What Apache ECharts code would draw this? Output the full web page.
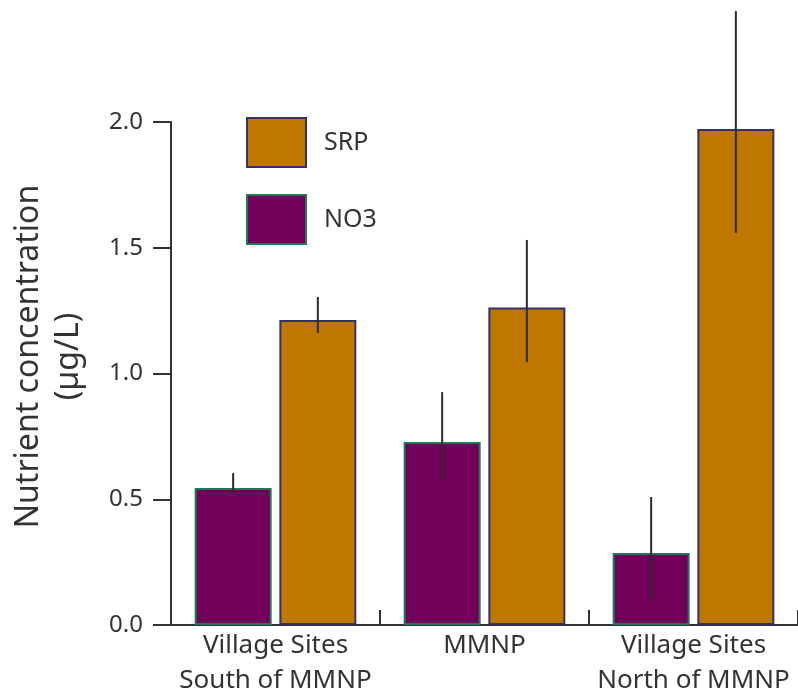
<!DOCTYPE html>
<html>
<head>
<meta charset="utf-8">
<script src="https://cdn.jsdelivr.net/npm/echarts@6/dist/echarts.min.js"></script>
<style>html,body{margin:0;padding:0;background:#fff}#c{width:798px;height:694px}</style>
</head>
<body>
<div id="c"></div>
<script>
const categories = ['Village Sites\nSouth of MMNP', 'MMNP', 'Village Sites\nNorth of MMNP'];
const no3Values = [0.545, 0.728, 0.286];
const srpValues = [1.213, 1.262, 1.972];
const no3ErrLow = [0.525, 0.577, 0.099];
const no3ErrHigh = [0.604, 0.926, 0.509];
const srpErrLow = [1.161, 1.046, 1.559];
const srpErrHigh = [1.304, 1.531, 2.441];
const yTicks = [0, 0.5, 1.0, 1.5, 2.0];

const BAR_W = 77;
const GAP = 0.1;
const OFF = (BAR_W + BAR_W * GAP) / 2;
const axisColor = '#333';
const font = 'Noto Sans';

function errData(lo, hi) { return lo.map((l, i) => [i, l, hi[i]]); }
function errSeries(name, lo, hi, dx) {
  return {
    type: 'custom', name: name, z: 10, clip: false,
    data: errData(lo, hi),
    encode: { x: 0, y: [1, 2] },
    renderItem: function (params, api) {
      const c = api.value(0);
      const a = api.coord([c, api.value(1)]);
      const b = api.coord([c, api.value(2)]);
      const x = a[0] + dx;
      return { type: 'line', shape: { x1: x, y1: a[1], x2: x, y2: b[1] },
               style: { stroke: '#2b2b2b', lineWidth: 2 } };
    }
  };
}

const chart = echarts.init(document.getElementById('c'), null, { renderer: 'canvas' });
chart.setOption({
  animation: false,
  backgroundColor: '#fff',
  grid: { left: 171, right: 0, top: 122, bottom: 69, containLabel: false, outerBoundsMode: 'none' },
  legend: {
    data: ['SRP', 'NO3'], orient: 'vertical', left: 241, top: 112, icon: 'rect',
    itemWidth: 59, itemHeight: 49, itemGap: 26,
    textStyle: { fontFamily: font, fontSize: 25, color: '#333', padding: [0, 0, 0, 13] }
  },
  xAxis: {
    type: 'category', data: categories, boundaryGap: true,
    axisLine: { show: true, lineStyle: { color: axisColor, width: 2 } },
    axisTick: { show: true, inside: true, length: 15, interval: 0, lineStyle: { color: axisColor, width: 2 } },
    axisLabel: { fontFamily: font, fontSize: 26, color: '#333', lineHeight: 35, margin: 3, interval: 0 }
  },
  yAxis: {
    type: 'value', min: 0, max: 2, interval: 0.5,
    name: 'Nutrient concentration\n(µg/L)', nameLocation: 'middle', nameRotate: 90, nameGap: 82,
    nameTextStyle: { fontFamily: font, fontSize: 32, color: '#333', lineHeight: 40, padding: [0, 0, 0, 34] },
    axisLine: { show: true, lineStyle: { color: axisColor, width: 2 } },
    axisTick: { show: true, length: 18, lineStyle: { color: axisColor, width: 2 } },
    splitLine: { show: false },
    axisLabel: { fontFamily: font, fontSize: 24, color: '#333', margin: 28,
      formatter: v => yTicks.includes(v) ? v.toFixed(1) : '' }
  },
  series: [
    { type: 'bar', name: 'NO3', data: no3Values, barWidth: BAR_W, barGap: (GAP * 100) + '%',
      itemStyle: { color: '#71005a', borderColor: '#1e7a56', borderWidth: 2 } },
    { type: 'bar', name: 'SRP', data: srpValues, barWidth: BAR_W,
      itemStyle: { color: '#bf7700', borderColor: '#34316b', borderWidth: 2 } },
    errSeries('NO3 err', no3ErrLow, no3ErrHigh, -OFF),
    errSeries('SRP err', srpErrLow, srpErrHigh, OFF)
  ]
});
</script>
</body>
</html>
